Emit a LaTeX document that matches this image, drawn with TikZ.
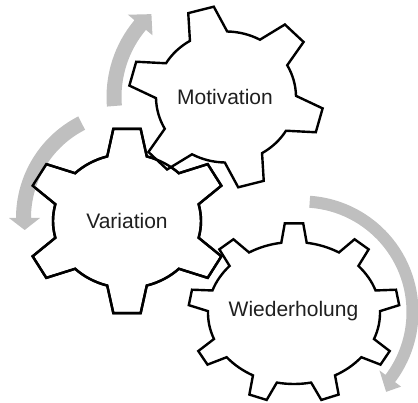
\documentclass[tikz,border=0pt]{standalone}
\usepackage{fontspec}
\setmainfont{Liberation Sans}
\definecolor{arrowgray}{HTML}{BFBFBF}
\tikzset{
  gearstyle/.style={draw=black, line width=2.4pt, fill=white, line join=miter},
  gearline/.style={draw=black, line width=2.4pt, line join=miter},
  gearlabel/.style={font=\fontsize{21}{25}\selectfont, text=black!88, anchor=base, inner sep=0pt},
  arrowstyle/.style={fill=arrowgray, draw=none},
}
% #1 options, #2 cx, #3 cy, #4 N, #5 phi0, #6 Rx, #7 Ry, #8 rx, #9 ry ; uses \gtau \gbeta
\newcommand\gearshape[9]{%
  \pgfmathsetmacro\gd{360/#4}%
  \pgfmathtruncatemacro\gn{#4-1}%
  \begin{scope}[shift={(#2,#3)}]
  \path[#1] (#5-\gbeta:#8pt and #9pt)
    \foreach \k [evaluate=\k as \p using #5+\k*\gd] in {0,...,\gn} {
      -- (\p-\gbeta:#8pt and #9pt)
      -- (\p-\gtau:#6pt and #7pt) -- (\p+\gtau:#6pt and #7pt)
      -- (\p+\gbeta:#8pt and #9pt)
      arc[start angle=\p+\gbeta, end angle=\p+\gd-\gbeta, x radius=#8pt, y radius=#9pt]
    } -- cycle;
  \end{scope}}
\begin{document}
\begin{tikzpicture}[x=1pt,y=1pt]
\useasboundingbox (0,0) rectangle (418,402);
\clip (0,0) rectangle (418,402);

% Wiederholung gear
\def\gtau{5}\def\gbeta{8.5}
\gearshape{gearstyle}{294}{89}{9}{90}{105.6}{90}{86}{71}
% Variation gear
\def\gtau{7.7}\def\gbeta{15.5}
\gearshape{gearstyle}{127}{181}{6}{90}{102}{93}{74}{67}
% Motivation gear
\def\gtau{7.8}\def\gbeta{16}
\gearshape{gearstyle}{226}{305}{6}{105}{97.4}{91}{70}{65.5}

% arrows
\begin{scope}[shift={(226,305)}]
  \path[arrowstyle] (184.6:104.5pt) arc[start angle=184.6, end angle=140, radius=104.5pt]
    -- (140:96pt) -- (132:111.5pt) -- (140:128pt) -- (140:119.5pt)
    arc[start angle=140, end angle=184.6, radius=119.5pt] -- cycle;
\end{scope}
\begin{scope}[shift={(130,184)}]
  \path[arrowstyle] (117:99pt) arc[start angle=117, end angle=180, radius=99pt]
    -- (180:90pt) -- (186.5:106pt) -- (180:121pt) -- (180:114pt)
    arc[start angle=180, end angle=117, radius=114pt] -- cycle;
\end{scope}
\begin{scope}[shift={(302,90)}]
  \path[arrowstyle] (86:104.5pt) arc[start angle=86, end angle=-37, radius=104.5pt]
    -- (-37:97pt) -- (-43.5:116pt) -- (-37:124pt) -- (-37:116.5pt)
    arc[start angle=-37, end angle=86, radius=116.5pt] -- cycle;
\end{scope}

% Variation outline over its arrow
\def\gtau{7.7}\def\gbeta{15.5}
\gearshape{gearline}{127}{181}{6}{90}{102}{93}{74}{67}

% labels
\node[gearlabel] (motivation) at (225,297) {Motivation};
\node[gearlabel] (variation) at (127,173) {Variation};
\node[gearlabel] (wiederholung) at (293.5,85) {Wiederholung};
\end{tikzpicture}
\end{document}
